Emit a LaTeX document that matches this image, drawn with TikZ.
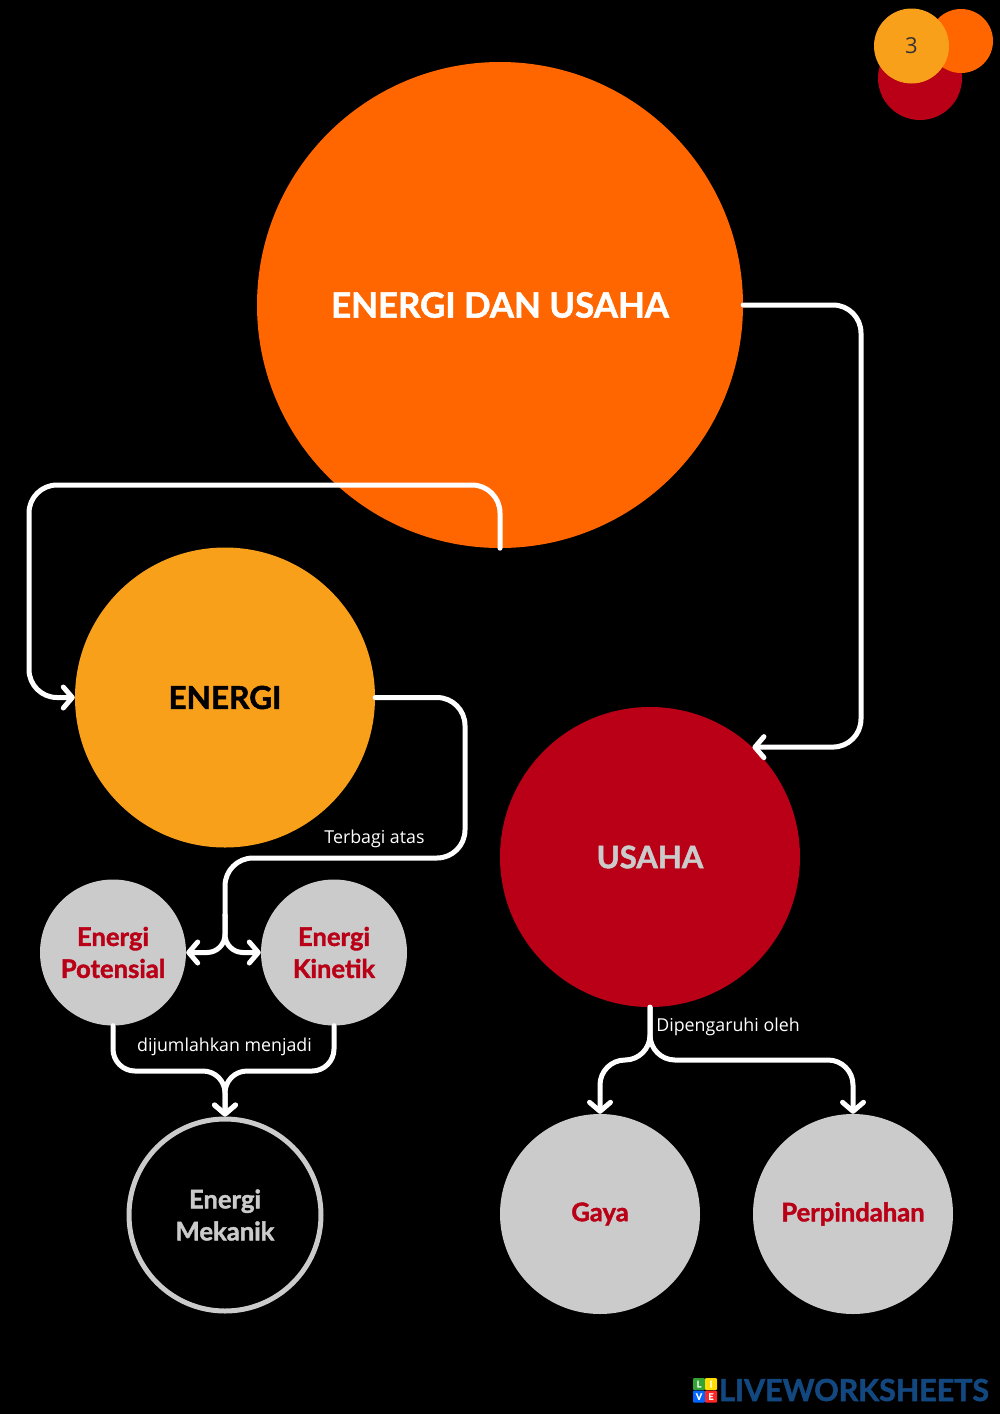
\documentclass[tikz,border=0pt]{standalone}
\usepackage{fontspec}
\usepackage{xcolor}
\usepackage{tikz}
\usetikzlibrary{arrows.meta}
\setmainfont{Open Sans}
\newfontfamily\headfont{Lato}[BoldFeatures={FakeBold=1.6}]
\definecolor{mainorange}{HTML}{FF6600}
\definecolor{sunyellow}{HTML}{F9A01B}
\definecolor{deepred}{HTML}{B90016}
\definecolor{softgray}{HTML}{CBCBCB}
\definecolor{logoblue}{HTML}{12487F}
\newcommand{\headsize}[1]{\headfont\bfseries\fontsize{#1}{32}\selectfont}
\newcommand{\notesize}{\fontsize{17.8}{20}\selectfont}

\begin{document}
\begin{tikzpicture}[x=1pt, y=-1pt,
        blob/.style={circle, inner sep=0pt, align=center},
        grayblob/.style={blob, fill=softgray, text=deepred},
        link/.style={draw=white, line width=5pt, rounded corners=28pt, line cap=round},
        smalllink/.style={link, rounded corners=18pt},
        note/.style={text=white, font=\notesize},
        logocell/.style={minimum size=12pt, inner sep=0pt, rounded corners=1pt, text=white, font=\headfont\bfseries\fontsize{9}{9}\selectfont},
        >={Straight Barb[length=9pt, width=21pt, round]}]
        % Page
        \fill[black] (0,0) rectangle (1000,1414);
        \useasboundingbox (0,0) rectangle (1000,1414);

        % Page number badge
        \node (badgered) [blob, fill=deepred, minimum size=84pt] at (920,78) {};
        \node (badgeorange) [blob, fill=mainorange, minimum size=64pt] at (961,41) {};
        \node (badgeyellow) [blob, fill=sunyellow, minimum size=75pt, text=black!80, font=\fontsize{22}{24}\selectfont] at (911.5,46) {3};

        % Main node
        \node (main) [blob, fill=mainorange, minimum size=486pt, text=white, font=\headsize{34.8}] at (500,305) {ENERGI DAN USAHA};
        % Energi branch
        \node (energi) [blob, fill=sunyellow, minimum size=300pt, text=black, font=\headsize{31.6}] at (225,697.5) {ENERGI};
        \node (potensial) [grayblob, minimum size=146pt, font=\headsize{25.6}] at (113,952.5) {Energi\\Potensial};
        \node (kinetik) [grayblob, minimum size=146pt, font=\headsize{25.6}] at (334,952.5) {Energi\\Kinetik};
        \node (mekanik) [blob, draw=softgray, line width=5pt, minimum size=192pt, text=softgray, font=\headsize{25.6}] at (225,1215) {Energi\\Mekanik};
        % Usaha branch
        \node (usaha) [blob, fill=deepred, minimum size=300pt, text=softgray, font=\headsize{31}] at (650,857) {USAHA};
        \node (gaya) [grayblob, minimum size=200pt, font=\headsize{25.6}] at (600,1214) {Gaya};
        \node (perpindahan) [grayblob, minimum size=200pt, font=\headsize{25.6}] at (853,1214) {Perpindahan};

        % Turning points
        \coordinate (usahaturn) at (861,747);
        \coordinate (energiturn) at (29,485);
        \coordinate (splitturn) at (465,858);
        \coordinate (splitdrop) at (225,858);
        \coordinate (splitfork) at (225,915);
        \coordinate (mekanikjoin) at (225,1071);
        \coordinate (usahafork) at (650,1060);

        % Arrows from the main node
        \draw[link, ->] (main.east) -| (usahaturn) -- (usaha.47);
        \draw[link, ->] (main.south) |- (energiturn) |- (energi.west);
        % Arrows from energi
        \draw[link] (energi.east) -| (splitturn) -- (splitdrop) -- (splitfork);
        \draw[smalllink, ->] (splitfork) |- (potensial.east);
        \draw[smalllink, ->] (splitfork) |- (kinetik.west);
        % Arrows into mekanik
        \draw[smalllink, rounded corners=22pt, ->] (potensial.south) |- (mekanikjoin) -- (mekanik.north);
        \draw[smalllink, rounded corners=22pt, ->] (kinetik.south) |- (mekanikjoin) -- (mekanik.north);
        % Arrows from usaha
        \draw[smalllink, rounded corners=25pt, ->] (usaha.south) |- (usahafork) -| (gaya.north);
        \draw[smalllink, rounded corners=25pt, ->] (usaha.south) |- (usahafork) -| (perpindahan.north);

        % Labels on the arrows
        \node (terbagi) [note] at (374.5,839) {Terbagi atas};
        \node (dijumlahkan) [note] at (224.5,1047) {dijumlahkan menjadi};
        \node (dipengaruhi) [note] at (728,1027) {Dipengaruhi oleh};

        % Logo
        \node (logoL) [logocell, fill=green!55!black!80] at (699,1384) {L};
        \node (logoI) [logocell, fill=yellow!80!orange] at (711,1384) {I};
        \node (logoV) [logocell, fill=blue!60!cyan] at (699,1396.5) {V};
        \node (logoE) [logocell, fill=red!80!pink] at (711,1396.5) {E};
        \node (logotext) [anchor=west, inner sep=0pt, text=logoblue, font=\headfont\bfseries\fontsize{30.4}{30}\selectfont] at (719,1390) {LIVEWORKSHEETS};
    \end{tikzpicture}
\end{document}
